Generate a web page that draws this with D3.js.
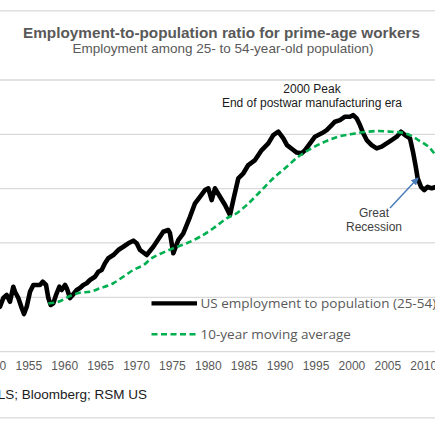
<!DOCTYPE html>
<html><head><meta charset="utf-8">
<script src="https://cdn.jsdelivr.net/npm/d3@7"></script>
<style>html,body{margin:0;padding:0;background:#fff;overflow:hidden}</style>
</head><body>
<script>
// ---- data ----
const epopYears = [1949.5,1950.5,1951.06,1951.52,1951.99,1952.45,1952.91,1953.15,1953.61,1954.08,1954.40,1954.78,1955.24,1955.70,1956.17,1956.63,1957.01,1957.47,1957.79,1958.12,1958.48,1958.86,1959.32,1959.65,1960.11,1960.35,1960.81,1961.18,1961.74,1962.20,1962.66,1963.13,1963.59,1964.29,1964.75,1965.22,1965.68,1966.14,1966.84,1967.53,1968.23,1968.93,1969.62,1970.10,1970.56,1971.49,1972.41,1973.80,1974.50,1974.73,1975.20,1975.89,1976.59,1977.52,1978.22,1978.91,1979.61,1980.07,1980.54,1981.00,1981.70,1982.40,1983.09,1983.55,1984.25,1984.95,1985.64,1986.58,1987.51,1988.43,1989.12,1989.82,1990.52,1991.03,1991.91,1992.38,1993.08,1993.54,1994.24,1994.93,1995.39,1995.86,1996.56,1997.25,1997.71,1998.41,1999.11,1999.80,2000.26,2000.73,2001.19,2001.65,2002.13,2002.82,2003.52,2004.22,2004.91,2005.61,2006.31,2006.91,2007.46,2008.16,2008.62,2008.96,2009.23,2009.69,2010.15,2010.63,2011.18,2011.64,2012.2];
const epopValues = [64.8,64.4,64.13,64.93,65.21,64.59,65.97,65.51,64.93,64.01,63.46,64.13,65.51,66.13,66.13,66.13,66.43,66.13,64.93,64.29,64.44,65.21,65.97,65.67,66.13,65.85,64.93,65.21,65.67,65.85,66.13,66.29,66.59,66.89,67.35,67.51,68.13,68.59,68.89,69.35,69.65,69.97,70.21,69.97,69.35,68.89,69.65,71.03,71.19,70.91,69.05,70.27,70.89,72.41,73.65,74.25,74.87,75.03,73.95,75.03,74.25,73.49,72.57,73.95,75.95,76.41,77.17,77.63,78.55,79.17,79.93,80.24,79.63,79.0,78.55,78.32,78.25,78.55,79.17,79.78,79.93,80.09,80.39,80.85,81.16,81.31,81.62,81.62,81.77,81.47,80.85,80.09,79.47,79.01,78.71,78.86,79.17,79.47,79.78,80.24,79.93,79.63,78.25,77.02,75.95,75.17,74.87,75.17,75.03,75.12,75.3];
const maYears = [1957.79,1959.18,1960.81,1962.20,1963.59,1964.99,1966.84,1968.23,1969.62,1971.25,1971.95,1973.34,1975.20,1977.06,1978.91,1980.77,1982.63,1984.03,1985.42,1987.27,1989.12,1990.75,1992.60,1994.47,1996.32,1998.17,2000.04,2001.89,2003.75,2005.61,2007.46,2009.32,2011.18,2012.2];
const maValues = [64.44,64.59,65.12,65.42,65.51,65.83,66.29,66.89,67.51,68.06,68.49,68.98,69.51,69.97,70.57,71.35,72.27,72.73,73.49,74.71,75.95,76.87,77.93,78.71,79.32,79.78,80.02,80.21,80.30,80.24,80.09,79.47,78.55,77.6];
const yearTicks = [1950,1955,1960,1965,1970,1975,1980,1985,1990,1995,2000,2005,2010];
const valueTicks = [60,65,70,75,80,85];
const titleText = "Employment-to-population ratio for prime-age workers";
const subtitleText = "Employment among 25- to 54-year-old population)";
const sourceText = "Source: BLS; Bloomberg; RSM US";
const seriesNames = ["US employment to population (25-54)", "10-year moving average"];

// ---- drawing ----
const W = 435, H = 435;
const svg = d3.select("body").append("svg").attr("width", W).attr("height", H);
const x = d3.scaleLinear().domain([1950, 2010]).range([-7.6, 423.2]);
const y = d3.scaleLinear().domain([60, 80]).range([351.6, 134.3]);
const grid = "#d9d9d9", gray = "#595959";

// frame lines
svg.append("line").attr("x1",0).attr("x2",W).attr("y1",10.8).attr("y2",10.8).attr("stroke",grid).attr("stroke-width",1.3);
svg.append("line").attr("x1",0).attr("x2",W).attr("y1",417.8).attr("y2",417.8).attr("stroke",grid).attr("stroke-width",1.3);

// gridlines
svg.append("g").selectAll("line").data(valueTicks).join("line")
  .attr("x1",0).attr("x2",W).attr("y1",d=>y(d)).attr("y2",d=>y(d))
  .attr("stroke",grid).attr("stroke-width",1.3);

// x axis labels
const xAxis = d3.axisBottom(x).tickValues(yearTicks).tickFormat(d3.format("d")).tickSize(0).tickPadding(0);
const gx = svg.append("g").attr("transform","translate(0,361)").call(xAxis);
gx.select(".domain").remove();
gx.selectAll("text").attr("fill",gray).attr("font-family","Liberation Sans, Arial, sans-serif").attr("font-size","12px").attr("dy","0.71em");

// titles
svg.append("text").attr("x",221.5).attr("y",38).attr("text-anchor","middle")
  .attr("font-family","Liberation Sans, Arial, sans-serif").attr("font-weight","bold").attr("font-size","15.3px").attr("fill",gray).text(titleText);
svg.append("text").attr("x",223).attr("y",53.3).attr("text-anchor","middle")
  .attr("font-family","Liberation Sans, Arial, sans-serif").attr("font-size","13.5px").attr("fill",gray).text(subtitleText);

// lines
const lineEpop = d3.line().x((d,i)=>x(epopYears[i])).y(d=>y(d)).curve(d3.curveLinear);
svg.append("path").datum(epopValues).attr("d",lineEpop).attr("fill","none")
  .attr("stroke","#000").attr("stroke-width",4.6).attr("stroke-linejoin","round").attr("stroke-linecap","round");
const lineMa = d3.line().x((d,i)=>x(maYears[i])).y(d=>y(d)).curve(d3.curveMonotoneX);
svg.append("path").datum(maValues).attr("d",lineMa).attr("fill","none")
  .attr("stroke","#00b050").attr("stroke-width",2.6).attr("stroke-dasharray","6,3.5");

// annotations
const ann = svg.append("g").attr("font-family","Liberation Sans, Arial, sans-serif").attr("font-size","12px").attr("fill","#1a1a1a").attr("text-anchor","middle");
ann.append("text").attr("x",312).attr("y",93).text("2000 Peak");
ann.append("text").attr("x",312).attr("y",106.5).text("End of postwar manufacturing era");
ann.append("text").attr("x",374).attr("y",217.3).attr("fill","#404040").text("Great");
ann.append("text").attr("x",374).attr("y",230.7).attr("fill","#404040").text("Recession");

// arrow
svg.append("defs").append("marker").attr("id","ah").attr("viewBox","0 0 10 10").attr("refX",9).attr("refY",5)
  .attr("markerWidth",5).attr("markerHeight",5).attr("orient","auto")
  .append("path").attr("d","M0,0L10,5L0,10z").attr("fill","#4a7ebb");
svg.append("line").attr("x1",390).attr("y1",208).attr("x2",418).attr("y2",178)
  .attr("stroke","#4a7ebb").attr("stroke-width",1.5).attr("marker-end","url(#ah)");

// legend
const lg = svg.append("g");
lg.append("line").attr("x1",151.5).attr("x2",197).attr("y1",303.3).attr("y2",303.3).attr("stroke","#000").attr("stroke-width",4.3);
lg.append("line").attr("x1",151.5).attr("x2",197).attr("y1",334.3).attr("y2",334.3).attr("stroke","#00b050").attr("stroke-width",2.6).attr("stroke-dasharray","6,3.5");
lg.selectAll("text").data(seriesNames).join("text")
  .attr("x",200.5).attr("y",(d,i)=>[308.2,339.2][i])
  .attr("font-family","Open Sans, sans-serif").attr("font-size","13.5px").attr("fill",gray).text(d=>d);

// source
svg.append("text").attr("x",147).attr("y",399).attr("text-anchor","end")
  .attr("font-family","Liberation Sans, Arial, sans-serif").attr("font-size","13.5px").attr("fill","#1a1a1a").text(sourceText);
</script>
</body></html>
